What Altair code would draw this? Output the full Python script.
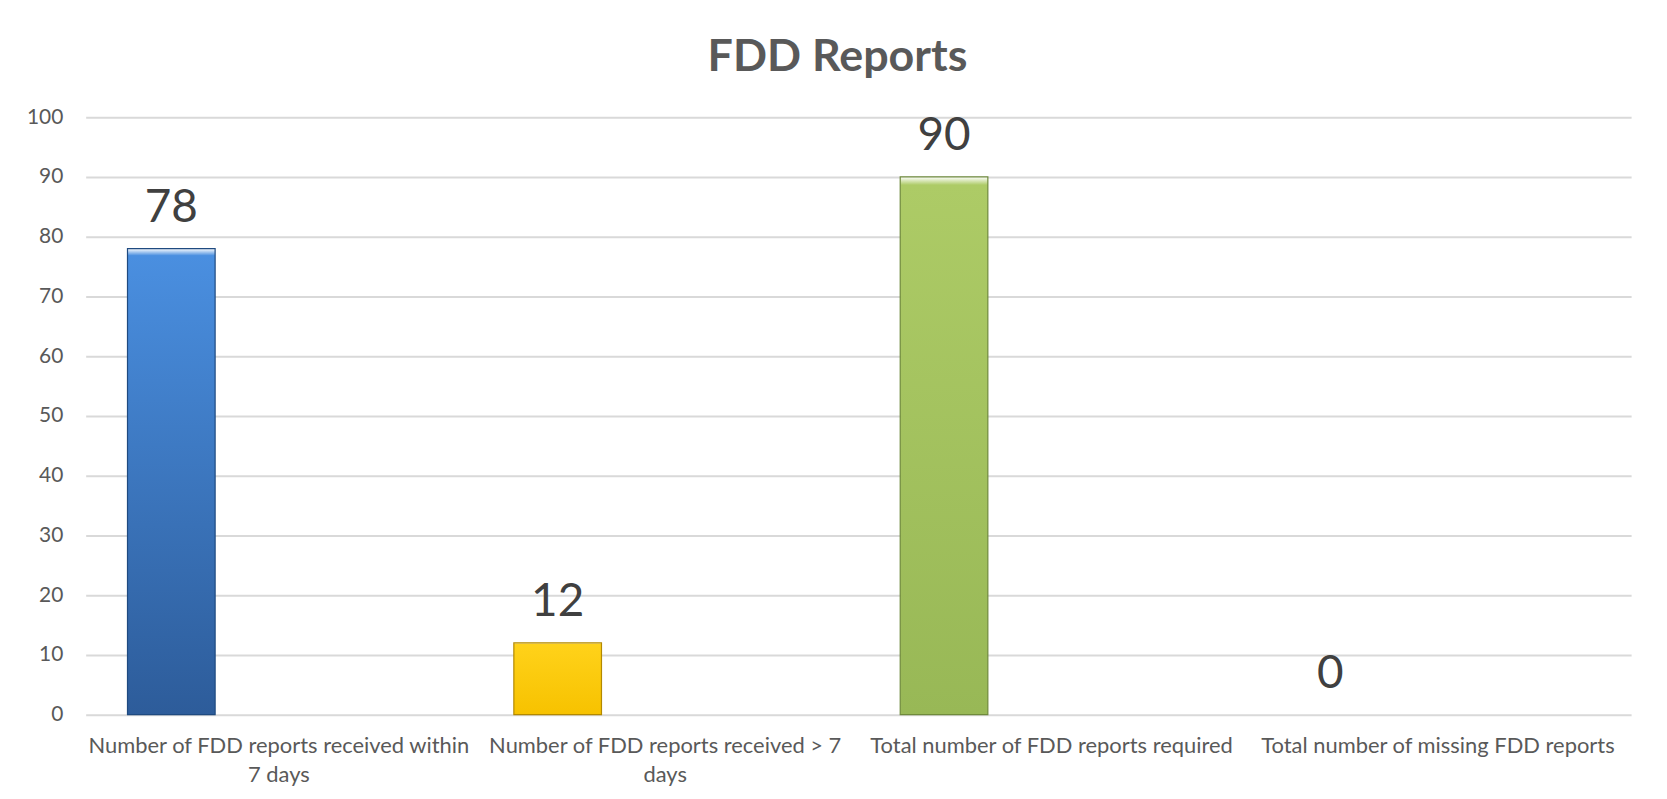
import altair as alt
import pandas as pd

categories = [
    "Number of FDD reports received within|7 days",
    "Number of FDD reports received > 7|days",
    "Total number of FDD reports required",
    "Total number of missing FDD reports",
]
values = [78, 12, 90, 0]
y_ticks = [0, 10, 20, 30, 40, 50, 60, 70, 80, 90, 100]

top_colors = ["#4A8FE0", "#FFD21A", "#ADCB66", "#A5A5A5"]
bottom_colors = ["#2D5C9A", "#F7C200", "#98B856", "#8C8C8C"]
stroke_colors = ["#1F4A80", "#B38900", "#6F8A3C", "#7F7F7F"]

df = pd.DataFrame({"category": categories, "value": values})

x_enc = alt.X(
    "category:N",
    sort=categories,
    scale=alt.Scale(paddingInner=0, paddingOuter=0),
    axis=alt.Axis(
        title=None,
        labelAngle=0,
        labelExpr="split(datum.label, '|')",
        labelFont="Lato",
        labelFontSize=22,
        labelColor="#595959",
        labelLineHeight=29,
        labelBaseline="top",
        labelPadding=21,
        labelLimit=0,
        domain=False,
        ticks=False,
    ),
)
y_enc = alt.Y(
    "value:Q",
    scale=alt.Scale(domain=[0, 100], nice=False),
    axis=alt.Axis(
        title=None,
        values=y_ticks,
        labelFont="Lato",
        labelFontSize=21,
        labelColor="#595959",
        labelPadding=23,
        domain=False,
        ticks=False,
        grid=True,
        gridColor="#D9D9D9",
        gridWidth=2,
    ),
)

base = alt.Chart(df)
layers = []
for i, cat in enumerate(categories):
    grad = alt.Gradient(
        gradient="linear",
        x1=0, x2=0, y1=0, y2=1,
        stops=[
            alt.GradientStop(color="#FFFFFF", offset=0),
            alt.GradientStop(color=top_colors[i], offset=0.015),
            alt.GradientStop(color=bottom_colors[i], offset=1),
        ],
    )
    mark_kwargs = dict(width=88, xOffset=-108, color=grad)
    if values[i] > 0:
        mark_kwargs.update(stroke=stroke_colors[i], strokeWidth=1.2)
    layers.append(
        base.transform_filter(alt.datum.category == cat)
        .mark_bar(**mark_kwargs)
        .encode(x=x_enc, y=y_enc)
    )

labels = base.mark_text(
    xOffset=-108, dy=-41, baseline="middle", align="center",
    font="Lato", fontSize=46, color="#404040",
).encode(x=x_enc, y=y_enc, text=alt.Text("value:Q"))

chart = (
    alt.layer(*layers, labels)
    .properties(
        width=1552,
        height=600,
        autosize=alt.AutoSizeParams(type="none"),
        padding={"left": 78, "top": 108, "right": 28, "bottom": 72},
        background="white",
        title=alt.TitleParams(
            text="FDD Reports",
            font="Lato",
            fontSize=45,
            fontWeight="bold",
            color="#595959",
            anchor="middle",
            dx=-21,
            offset=26,
        ),
    )
    .configure_view(stroke=None)
)

chart.save("out.html", embed_options={"renderer": "svg", "actions": False})
